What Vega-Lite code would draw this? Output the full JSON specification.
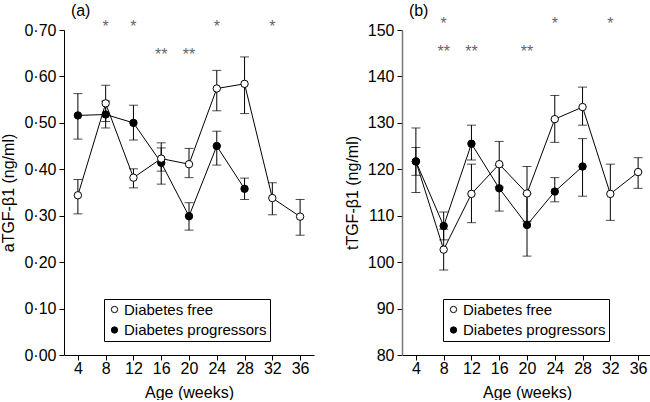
{
  "$schema": "https://vega.github.io/schema/vega-lite/v6.json",
  "padding": {"left": 0, "top": 2, "right": 0, "bottom": 0},
  "background": "white",
  "spacing": 30,
  "config": {
    "font": "Liberation Sans",
    "view": {"stroke": null},
    "axis": {
      "grid": false, "domainColor": "black", "tickColor": "black", "labelColor": "black", "titleColor": "black",
      "labelFont": "Liberation Sans", "titleFont": "Liberation Sans", "labelFontSize": 16, "titleFontSize": 16,
      "titleFontWeight": "normal", "tickSize": 5, "labelPadding": 3, "domainWidth": 1, "tickWidth": 1, "labelOverlap": false
    },
    "axisX": {"labelOverlap": false, "labelPadding": 0, "titlePadding": 8}
  },
  "datasets": {
    "main": [
      {"panel": "a", "group": "Diabetes progressors", "week": 4, "value": 0.516, "lo": 0.465, "hi": 0.563},
      {"panel": "a", "group": "Diabetes progressors", "week": 8, "value": 0.518, "lo": 0.489, "hi": 0.547},
      {"panel": "a", "group": "Diabetes progressors", "week": 12, "value": 0.500, "lo": 0.463, "hi": 0.538},
      {"panel": "a", "group": "Diabetes progressors", "week": 16, "value": 0.414, "lo": 0.368, "hi": 0.457},
      {"panel": "a", "group": "Diabetes progressors", "week": 20, "value": 0.299, "lo": 0.269, "hi": 0.328},
      {"panel": "a", "group": "Diabetes progressors", "week": 24, "value": 0.450, "lo": 0.409, "hi": 0.482},
      {"panel": "a", "group": "Diabetes progressors", "week": 28, "value": 0.358, "lo": 0.335, "hi": 0.381},
      {"panel": "a", "group": "Diabetes free", "week": 4, "value": 0.344, "lo": 0.304, "hi": 0.378},
      {"panel": "a", "group": "Diabetes free", "week": 8, "value": 0.542, "lo": 0.503, "hi": 0.581},
      {"panel": "a", "group": "Diabetes free", "week": 12, "value": 0.382, "lo": 0.360, "hi": 0.401},
      {"panel": "a", "group": "Diabetes free", "week": 16, "value": 0.423, "lo": 0.396, "hi": 0.446},
      {"panel": "a", "group": "Diabetes free", "week": 20, "value": 0.411, "lo": 0.382, "hi": 0.445},
      {"panel": "a", "group": "Diabetes free", "week": 24, "value": 0.574, "lo": 0.526, "hi": 0.613},
      {"panel": "a", "group": "Diabetes free", "week": 28, "value": 0.584, "lo": 0.520, "hi": 0.642},
      {"panel": "a", "group": "Diabetes free", "week": 32, "value": 0.338, "lo": 0.302, "hi": 0.371},
      {"panel": "a", "group": "Diabetes free", "week": 36, "value": 0.298, "lo": 0.258, "hi": 0.335},
      {"panel": "b", "group": "Diabetes free", "week": 4, "value": 121.7, "lo": 118.7, "hi": 124.7},
      {"panel": "b", "group": "Diabetes free", "week": 8, "value": 102.7, "lo": 98.3, "hi": 107.1},
      {"panel": "b", "group": "Diabetes free", "week": 12, "value": 114.7, "lo": 108.5, "hi": 121.1},
      {"panel": "b", "group": "Diabetes free", "week": 16, "value": 121.1, "lo": 116.2, "hi": 126.0},
      {"panel": "b", "group": "Diabetes free", "week": 20, "value": 114.8, "lo": 108.8, "hi": 120.6},
      {"panel": "b", "group": "Diabetes free", "week": 24, "value": 130.8, "lo": 125.8, "hi": 135.9},
      {"panel": "b", "group": "Diabetes free", "week": 28, "value": 133.4, "lo": 129.5, "hi": 137.7},
      {"panel": "b", "group": "Diabetes free", "week": 32, "value": 114.7, "lo": 109.0, "hi": 121.1},
      {"panel": "b", "group": "Diabetes free", "week": 36, "value": 119.4, "lo": 115.9, "hi": 122.5},
      {"panel": "b", "group": "Diabetes progressors", "week": 4, "value": 121.7, "lo": 115.0, "hi": 128.9},
      {"panel": "b", "group": "Diabetes progressors", "week": 8, "value": 107.8, "lo": 104.8, "hi": 110.8},
      {"panel": "b", "group": "Diabetes progressors", "week": 12, "value": 125.5, "lo": 122.0, "hi": 129.5},
      {"panel": "b", "group": "Diabetes progressors", "week": 16, "value": 115.9, "lo": 111.0, "hi": 120.8},
      {"panel": "b", "group": "Diabetes progressors", "week": 20, "value": 108.0, "lo": 101.3, "hi": 114.7},
      {"panel": "b", "group": "Diabetes progressors", "week": 24, "value": 115.2, "lo": 113.0, "hi": 118.2},
      {"panel": "b", "group": "Diabetes progressors", "week": 28, "value": 120.6, "lo": 114.2, "hi": 126.6}
    ],
    "stars": [
      {"panel": "a", "week": 8, "label": "*"},
      {"panel": "a", "week": 12, "label": "*"},
      {"panel": "a", "week": 24, "label": "*"},
      {"panel": "a", "week": 32, "label": "*"},
      {"panel": "a", "week": 16, "label": "**"},
      {"panel": "a", "week": 20, "label": "**"},
      {"panel": "b", "week": 8, "label": "*"},
      {"panel": "b", "week": 24, "label": "*"},
      {"panel": "b", "week": 32, "label": "*"},
      {"panel": "b", "week": 8, "label": "**"},
      {"panel": "b", "week": 12, "label": "**"},
      {"panel": "b", "week": 20, "label": "**"}
    ]
  },
  "resolve": {"scale": {"x": "independent", "y": "independent", "fill": "independent"}, "legend": {"fill": "independent"}},
  "hconcat": [
    {
      "width": 250, "height": 325,
      "encoding": {
        "x": {"field": "week", "type": "quantitative", "scale": {"domain": [2, 38], "nice": false}, "axis": {"values": [4, 8, 12, 16, 20, 24, 28, 32, 36], "title": "Age (weeks)", "labelOverlap": false}}
      },
      "layer": [
        {
          "data": {"name": "main"},
          "transform": [{"filter": "datum.panel === 'a'"}],
          "mark": {"type": "line", "color": "black", "strokeWidth": 1},
          "encoding": {
            "y": {"field": "value", "type": "quantitative", "scale": {"domain": [0, 0.7], "nice": false, "zero": false}, "axis": {"values": [0, 0.1, 0.2, 0.3, 0.4, 0.5, 0.6, 0.7], "labelExpr": "replace(format(datum.value, '.2f'), '.', '·')", "title": "aTGF-β1 (ng/ml)", "titlePadding": 7}},
            "detail": {"field": "group"}
          }
        },
        {
          "data": {"name": "main"},
          "transform": [{"filter": "datum.panel === 'a'"}],
          "mark": {"type": "errorbar", "ticks": {"size": 9, "color": "black"}, "color": "black", "thickness": 1},
          "encoding": {
            "y": {"field": "lo", "type": "quantitative", "title": "aTGF-β1 (ng/ml)"},
            "y2": {"field": "hi"},
            "detail": {"field": "group"}
          }
        },
        {
          "data": {"name": "main"},
          "transform": [{"filter": "datum.panel === 'a'"}],
          "mark": {"type": "point", "shape": "circle", "filled": true, "stroke": "black", "strokeWidth": 1, "size": 55, "opacity": 1},
          "encoding": {
            "y": {"field": "value", "type": "quantitative", "title": "aTGF-β1 (ng/ml)"},
            "fill": {"field": "group", "type": "nominal", "sort": null, "scale": {"domain": ["Diabetes free", "Diabetes progressors"], "range": ["white", "black"]},
              "legend": {"orient": "none", "legendX": 40, "legendY": 269, "title": null, "strokeColor": "black", "fillColor": "white", "padding": 3, "labelFontSize": 15, "labelFont": "Liberation Sans", "labelColor": "black", "symbolType": "circle", "symbolSize": 40, "symbolStrokeColor": "black", "symbolStrokeWidth": 1, "rowPadding": 4.5, "labelOffset": 2, "cornerRadius": 0}}
          }
        },
        {
          "data": {"name": "stars"},
          "transform": [{"filter": "datum.panel === 'a' && datum.label === '*'"}],
          "mark": {"type": "text", "fontSize": 16, "color": "#666"},
          "encoding": {
            "y": {"datum": 0.7075, "type": "quantitative"},
            "text": {"field": "label"}
          }
        },
        {
          "data": {"name": "stars"},
          "transform": [{"filter": "datum.panel === 'a' && datum.label === '**'"}],
          "mark": {"type": "text", "fontSize": 16, "color": "#666"},
          "encoding": {
            "y": {"datum": 0.646, "type": "quantitative"},
            "text": {"field": "label"}
          }
        },
        {
          "data": {"values": [{"label": "(a)", "week": 4.4}]},
          "mark": {"type": "text", "fontSize": 16, "color": "black"},
          "encoding": {
            "y": {"datum": 0.741, "type": "quantitative"},
            "text": {"field": "label"}
          }
        }
      ]
    },
    {
      "width": 250, "height": 325,
      "encoding": {
        "x": {"field": "week", "type": "quantitative", "scale": {"domain": [2, 38], "nice": false}, "axis": {"values": [4, 8, 12, 16, 20, 24, 28, 32, 36], "title": "Age (weeks)", "labelOverlap": false}}
      },
      "layer": [
        {
          "data": {"name": "main"},
          "transform": [{"filter": "datum.panel === 'b'"}],
          "mark": {"type": "line", "color": "black", "strokeWidth": 1},
          "encoding": {
            "y": {"field": "value", "type": "quantitative", "scale": {"domain": [80, 150], "nice": false, "zero": false}, "axis": {"values": [80, 90, 100, 110, 120, 130, 140, 150], "title": "tTGF-β1 (ng/ml)", "titlePadding": 7, "domainColor": "#777", "domainWidth": 1.5}},
            "detail": {"field": "group"}
          }
        },
        {
          "data": {"name": "main"},
          "transform": [{"filter": "datum.panel === 'b'"}],
          "mark": {"type": "errorbar", "ticks": {"size": 9, "color": "black"}, "color": "black", "thickness": 1},
          "encoding": {
            "y": {"field": "lo", "type": "quantitative", "title": "tTGF-β1 (ng/ml)"},
            "y2": {"field": "hi"},
            "detail": {"field": "group"}
          }
        },
        {
          "data": {"name": "main"},
          "transform": [{"filter": "datum.panel === 'b'"}],
          "mark": {"type": "point", "shape": "circle", "filled": true, "stroke": "black", "strokeWidth": 1, "size": 55, "opacity": 1},
          "encoding": {
            "y": {"field": "value", "type": "quantitative", "title": "tTGF-β1 (ng/ml)"},
            "fill": {"field": "group", "type": "nominal", "sort": null, "scale": {"domain": ["Diabetes free", "Diabetes progressors"], "range": ["white", "black"]},
              "legend": {"orient": "none", "legendX": 41, "legendY": 269, "title": null, "strokeColor": "black", "fillColor": "white", "padding": 3, "labelFontSize": 15, "labelFont": "Liberation Sans", "labelColor": "black", "symbolType": "circle", "symbolSize": 40, "symbolStrokeColor": "black", "symbolStrokeWidth": 1, "rowPadding": 4.5, "labelOffset": 2, "cornerRadius": 0}}
          }
        },
        {
          "data": {"name": "stars"},
          "transform": [{"filter": "datum.panel === 'b' && datum.label === '*'"}],
          "mark": {"type": "text", "fontSize": 16, "color": "#666"},
          "encoding": {
            "y": {"datum": 151.4, "type": "quantitative"},
            "text": {"field": "label"}
          }
        },
        {
          "data": {"name": "stars"},
          "transform": [{"filter": "datum.panel === 'b' && datum.label === '**'"}],
          "mark": {"type": "text", "fontSize": 16, "color": "#666"},
          "encoding": {
            "y": {"datum": 145.3, "type": "quantitative"},
            "text": {"field": "label"}
          }
        },
        {
          "data": {"values": [{"label": "(b)", "week": 4.4}]},
          "mark": {"type": "text", "fontSize": 16, "color": "black"},
          "encoding": {
            "y": {"datum": 154.1, "type": "quantitative"},
            "text": {"field": "label"}
          }
        }
      ]
    }
  ]
}
